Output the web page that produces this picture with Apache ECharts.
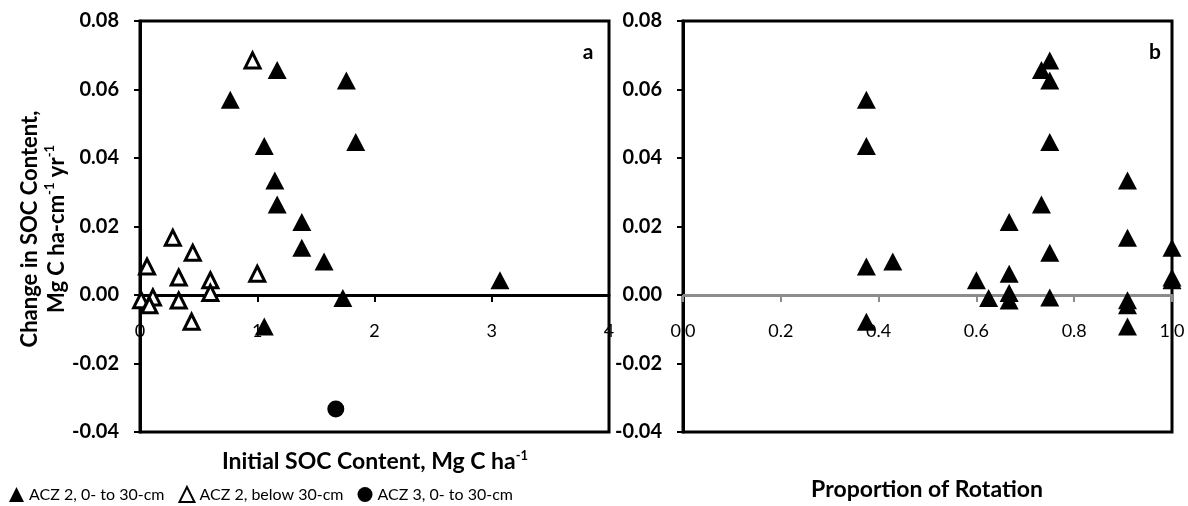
<!DOCTYPE html>
<html>
<head>
<meta charset="utf-8">
<script src="https://cdn.jsdelivr.net/npm/echarts@6/dist/echarts.min.js"></script>
<style>
html,body{margin:0;padding:0;background:#ffffff;}
#chart{width:1188px;height:506px;}
</style>
</head>
<body>
<div id="chart"></div>
<script>
// ---- Data ----
// ACZ 2, 0- to 30-cm (filled triangles)
const acz2TopSOC    = [0.77, 1.17, 1.76, 1.84, 1.06, 1.15, 1.17, 1.38, 1.38, 1.57, 3.07, 1.73, 1.06];
const acz2TopChange = [0.0570, 0.0657, 0.0626, 0.0447, 0.0435, 0.0334, 0.0264, 0.0213, 0.0138, 0.0098, 0.0043, -0.0009, -0.0092];
const acz2TopProp   = [0.375, 0.733, 0.75, 0.75, 0.375, 0.909, 0.733, 0.667, 1.0, 0.429, 0.6, 0.625, 0.909];
// ACZ 2, below 30-cm (open triangles)
const acz2SubSOC    = [0.96, 0.28, 0.45, 0.06, 0.33, 0.60, 1.00, 0.60, 0.01, 0.11, 0.08, 0.33, 0.44];
const acz2SubChange = [0.0685, 0.0167, 0.0123, 0.0083, 0.0051, 0.0043, 0.0062, 0.0006, -0.0015, -0.0007, -0.0030, -0.0016, -0.0078];
const acz2SubProp   = [0.75, 0.909, 0.75, 0.375, 1.0, 1.0, 0.667, 0.667, 0.909, 0.75, 0.909, 0.667, 0.375];
// ACZ 3, 0- to 30-cm (filled circle)
const acz3SOC    = [1.67];
const acz3Change = [-0.0333];

// Axis tick settings
const yTicks  = [-0.04, -0.02, 0.00, 0.02, 0.04, 0.06, 0.08];
const xTicksA = [0, 1, 2, 3, 4];
const xTicksB = [0.0, 0.2, 0.4, 0.6, 0.8, 1.0];

const seriesNames = ['ACZ 2, 0- to 30-cm', 'ACZ 2, below 30-cm', 'ACZ 3, 0- to 30-cm'];
const panelLabels = ['a', 'b'];
const xTitleA = ['Initial SOC Content, Mg C ha', '-1'];
const xTitleB = 'Proportion of Rotation';
const yTitle = ['Change in SOC Content,', 'Mg C ha-cm', '-1', ' yr', '-1'];

// ---- Chart ----
const FONT = 'Lato, "Open Sans", "Liberation Sans", sans-serif';
const GRID_H = 411;
const zip = (xs, ys) => xs.map((x, i) => [x, ys[i]]);
const chart = echarts.init(document.getElementById('chart'));
const yMin = yTicks[0], yMax = yTicks[yTicks.length - 1];
// shift the x axis (line, ticks, labels) up to the y = 0 level
const zeroOffset = -GRID_H * (0 - yMin) / (yMax - yMin);

function yAxisCfg(grid) {
  return {
    type: 'value', gridIndex: grid,
    min: yMin, max: yMax, interval: 0.02,
    axisLine: { show: true, lineStyle: { color: '#000', width: 3 } },
    axisTick: { show: true, inside: false, length: 6, lineStyle: { color: '#000', width: 2 } },
    axisLabel: { formatter: v => v.toFixed(2), fontFamily: FONT, fontWeight: 'bold', fontSize: 20, color: '#000', margin: 21 },
    splitLine: { show: false }
  };
}
function xAxisCfg(grid, ticks, lineColor, decimals) {
  return {
    type: 'value', gridIndex: grid, position: 'bottom', offset: zeroOffset,
    min: ticks[0], max: ticks[ticks.length - 1], interval: ticks[1] - ticks[0],
    axisLine: { show: true, onZero: false, lineStyle: { color: lineColor, width: 3 } },
    axisTick: { show: true, inside: false, length: 7, lineStyle: { color: lineColor, width: 2 } },
    axisLabel: { formatter: v => v.toFixed(decimals), fontFamily: FONT, fontSize: 18, color: '#000', margin: 27, showMinLabel: true, showMaxLabel: true },
    splitLine: { show: false }
  };
}

const option = {
  backgroundColor: '#fff',
  animation: false,
  grid: [
    { left: 140, top: 21, width: 469, height: GRID_H, show: true, borderColor: '#000', borderWidth: 3, backgroundColor: 'transparent' },
    { left: 683, top: 21, width: 489, height: GRID_H, show: true, borderColor: '#000', borderWidth: 3, backgroundColor: 'transparent' }
  ],
  xAxis: [ xAxisCfg(0, xTicksA, '#000', 0), xAxisCfg(1, xTicksB, '#8c8c8c', 1) ],
  yAxis: [ yAxisCfg(0), yAxisCfg(1) ],
  legend: {
    data: seriesNames.map(n => ({ name: n })),
    left: 4, top: 481,
    itemWidth: 15, itemHeight: 15, itemGap: 14,
    textStyle: { fontFamily: FONT, fontSize: 16, color: '#000' }
  },
  series: [
    { name: seriesNames[0], type: 'scatter', xAxisIndex: 0, yAxisIndex: 0, symbol: 'triangle', symbolSize: [19, 18],
      itemStyle: { color: '#000', opacity: 1 }, data: zip(acz2TopSOC, acz2TopChange) },
    { name: seriesNames[1], type: 'scatter', xAxisIndex: 0, yAxisIndex: 0, symbol: 'triangle', symbolSize: [15, 15],
      itemStyle: { color: '#fff', borderColor: '#000', borderWidth: 3, opacity: 1 }, data: zip(acz2SubSOC, acz2SubChange) },
    { name: seriesNames[2], type: 'scatter', xAxisIndex: 0, yAxisIndex: 0, symbol: 'circle', symbolSize: 17,
      itemStyle: { color: '#000', opacity: 1 }, data: zip(acz3SOC, acz3Change) },
    { name: 'prop-0-30', type: 'scatter', xAxisIndex: 1, yAxisIndex: 1, symbol: 'triangle', symbolSize: [19, 18],
      itemStyle: { color: '#000', opacity: 1 }, data: zip(acz2TopProp, acz2TopChange) },
    { name: 'prop-below-30', type: 'scatter', xAxisIndex: 1, yAxisIndex: 1, symbol: 'triangle', symbolSize: [19, 18],
      itemStyle: { color: '#000', opacity: 1 }, data: zip(acz2SubProp, acz2SubChange) }
  ],
  graphic: [
    { type: 'text', x: 588, y: 52, style: { text: panelLabels[0], font: 'bold 21px ' + FONT, fill: '#000', align: 'center', verticalAlign: 'middle' } },
    { type: 'text', x: 1155, y: 52, style: { text: panelLabels[1], font: 'bold 21px ' + FONT, fill: '#000', align: 'center', verticalAlign: 'middle' } },
    { type: 'text', x: 375, y: 462, style: {
        text: '{t|' + xTitleA[0] + '}{s|' + xTitleA[1] + '}', align: 'center', verticalAlign: 'middle',
        rich: { t: { font: 'bold 23px ' + FONT, fill: '#000' }, s: { font: 'bold 13px ' + FONT, fill: '#000', verticalAlign: 'top', padding: [0, 0, 12, 0] } } } },
    { type: 'text', x: 927, y: 490, style: { text: xTitleB, font: 'bold 23px ' + FONT, fill: '#000', align: 'center', verticalAlign: 'middle' } },
    { type: 'text', x: 43, y: 229, rotation: Math.PI / 2, style: {
        text: '{t|' + yTitle[0] + '}\n{t|' + yTitle[1] + '}{s|' + yTitle[2] + '}{t|' + yTitle[3] + '}{s|' + yTitle[4] + '}',
        align: 'center', verticalAlign: 'middle',
        rich: { t: { font: 'bold 22px ' + FONT, fill: '#000', lineHeight: 27, align: 'center' }, s: { font: 'bold 13px ' + FONT, fill: '#000', verticalAlign: 'top', lineHeight: 27, padding: [0, 0, 11, 0] } } } }
  ]
};
chart.setOption(option);
</script>
</body>
</html>
